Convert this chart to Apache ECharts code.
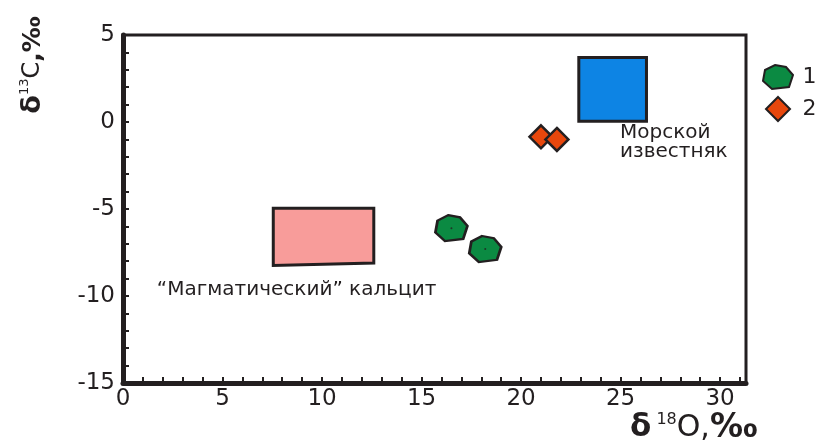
<!DOCTYPE html>
<html>
<head>
<meta charset="utf-8">
<title>δ13C – δ18O</title>
<script src="https://cdn.jsdelivr.net/npm/echarts/dist/echarts.min.js"></script>
<style>
  html, body { margin: 0; padding: 0; background: #ffffff; }
  #chart { width: 818px; height: 445px; }
</style>
</head>
<body>
<div id="chart"></div>
<script>
// Sample groups: [δ18O, δ13C] in ‰
const group1 = [[16.5, -6.1], [18.2, -7.3]];
const group2 = [[21.0, -0.85], [21.8, -1.0]];

// Reference fields (corner points in data units)
const marineLimestone = [[22.9, 0.05], [26.3, 0.05], [26.3, 3.7], [22.9, 3.7]];
const magmaticCalcite = [[7.55, -4.95], [12.6, -4.95], [12.6, -8.1], [7.55, -8.25]];
const fieldNames = ['Морской\nизвестняк', '“Магматический” кальцит'];
const fieldLabelAnchors = [[24.97, -0.1], [1.7, -9.65]];

// Axis tick labels
const xTickLabels = [0, 5, 10, 15, 20, 25, 30];
const yTickLabels = [-15, -10, -5, 0, 5];

const ink = '#231f20';
const font = 'DejaVu Sans';
const fields = [marineLimestone, magmaticCalcite];
const fieldColors = ['#0d84e4', '#f89c9a'];

// Rounded heptagon used for group 1
const heptagon = 'path://M12,0 L23,2 L30,10 L26,22 L9,24 L0,16 L2,5 Z';

const chart = echarts.init(document.getElementById('chart'), null, { renderer: 'canvas' });

chart.setOption({
  animation: false,
  backgroundColor: '#ffffff',
  grid: {
    left: 123, top: 35, right: 72, bottom: 62,
    show: true, borderColor: ink, borderWidth: 3,
    outerBoundsMode: 'none'
  },
  xAxis: {
    type: 'value', min: 0, max: 31.3, interval: 1,
    axisLine: { show: true, onZero: false, lineStyle: { color: ink, width: 5 } },
    axisTick: { show: true, inside: true, length: 6, lineStyle: { color: ink, width: 2 } },
    splitLine: { show: false },
    axisLabel: {
      margin: 5, color: ink, fontFamily: font, fontSize: 23,
      showMaxLabel: false,
      formatter: v => (xTickLabels.includes(v) ? String(v) : '')
    }
  },
  yAxis: {
    type: 'value', min: -15, max: 5, interval: 1,
    axisLine: { show: true, onZero: false, lineStyle: { color: ink, width: 5 } },
    axisTick: { show: true, inside: true, length: 6, lineStyle: { color: ink, width: 2 } },
    splitLine: { show: false },
    axisLabel: {
      margin: 8, color: ink, fontFamily: font, fontSize: 23,
      formatter: v => (yTickLabels.includes(v) ? String(v) : '')
    }
  },
  legend: {
    data: ['1', '2'],
    orient: 'vertical',
    left: 757, top: 59,
    itemWidth: 33, itemHeight: 24, itemGap: 6,
    textStyle: { color: ink, fontFamily: font, fontSize: 22, padding: [0, 0, 0, 3] }
  },
  graphic: [
    {
      type: 'text', x: 33, y: 65, rotation: Math.PI / 2,
      style: {
        text: '{d|δ}{s|13}{c|C}{p|,‰}',
        align: 'center', verticalAlign: 'middle', fill: ink,
        rich: {
          d: { fontFamily: font, fontWeight: 'bold', fontSize: 27, lineHeight: 30, fill: ink },
          s: { fontFamily: font, fontSize: 13, lineHeight: 30, verticalAlign: 'top', fill: ink },
          c: { fontFamily: font, fontSize: 24, lineHeight: 30, fill: ink },
          p: { fontFamily: font, fontWeight: 'bold', fontSize: 25, lineHeight: 30, fill: ink }
        }
      }
    },
    {
      type: 'text', x: 630, y: 428,
      style: {
        text: '{d|δ}{s| 18}{o|O,}{p|‰}',
        align: 'left', verticalAlign: 'middle', fill: ink,
        rich: {
          d: { fontFamily: font, fontWeight: 'bold', fontSize: 31, lineHeight: 32, fill: ink },
          s: { fontFamily: font, fontSize: 16, lineHeight: 32, verticalAlign: 'top', fill: ink },
          o: { fontFamily: font, fontSize: 30, lineHeight: 32, fill: ink },
          p: { fontFamily: font, fontWeight: 'bold', fontSize: 33, lineHeight: 32, fill: ink }
        }
      }
    }
  ],
  series: [
    {
      // Reference fields with their captions
      type: 'custom',
      name: 'fields',
      z: 1,
      data: fields.map((f, i) => [i]),
      renderItem: (params, api) => {
        const i = params.dataIndex;
        const pts = fields[i].map(p => api.coord(p));
        const anchor = api.coord(fieldLabelAnchors[i]);
        return {
          type: 'group',
          children: [
            {
              type: 'polygon',
              shape: { points: pts },
              style: { fill: fieldColors[i], stroke: ink, lineWidth: 3 }
            },
            {
              type: 'text',
              x: anchor[0], y: anchor[1],
              style: {
                text: fieldNames[i],
                fill: ink, fontFamily: font, fontSize: 20, lineHeight: 19,
                align: 'left', verticalAlign: i === 0 ? 'top' : 'middle'
              }
            }
          ]
        };
      }
    },
    {
      type: 'scatter',
      name: '1',
      z: 3,
      symbol: heptagon,
      symbolSize: [32, 26],
      symbolKeepAspect: false,
      itemStyle: { color: '#0b8a42', borderColor: ink, borderWidth: 2.5, opacity: 1 },
      data: group1
    },
    {
      // centre dots of group 1 markers
      type: 'scatter',
      name: 'group1-centre',
      z: 4,
      symbol: 'circle',
      symbolSize: 2,
      itemStyle: { color: ink },
      silent: true,
      data: group1
    },
    {
      type: 'scatter',
      name: '2',
      z: 3,
      symbol: 'path://M10,0 L20,10 L10,20 L0,10 Z',
      symbolKeepAspect: true,
      symbolSize: [23, 23],
      itemStyle: { color: '#e8470c', borderColor: ink, borderWidth: 2.5, opacity: 1 },
      data: group2
    }
  ]
});
</script>
</body>
</html>
